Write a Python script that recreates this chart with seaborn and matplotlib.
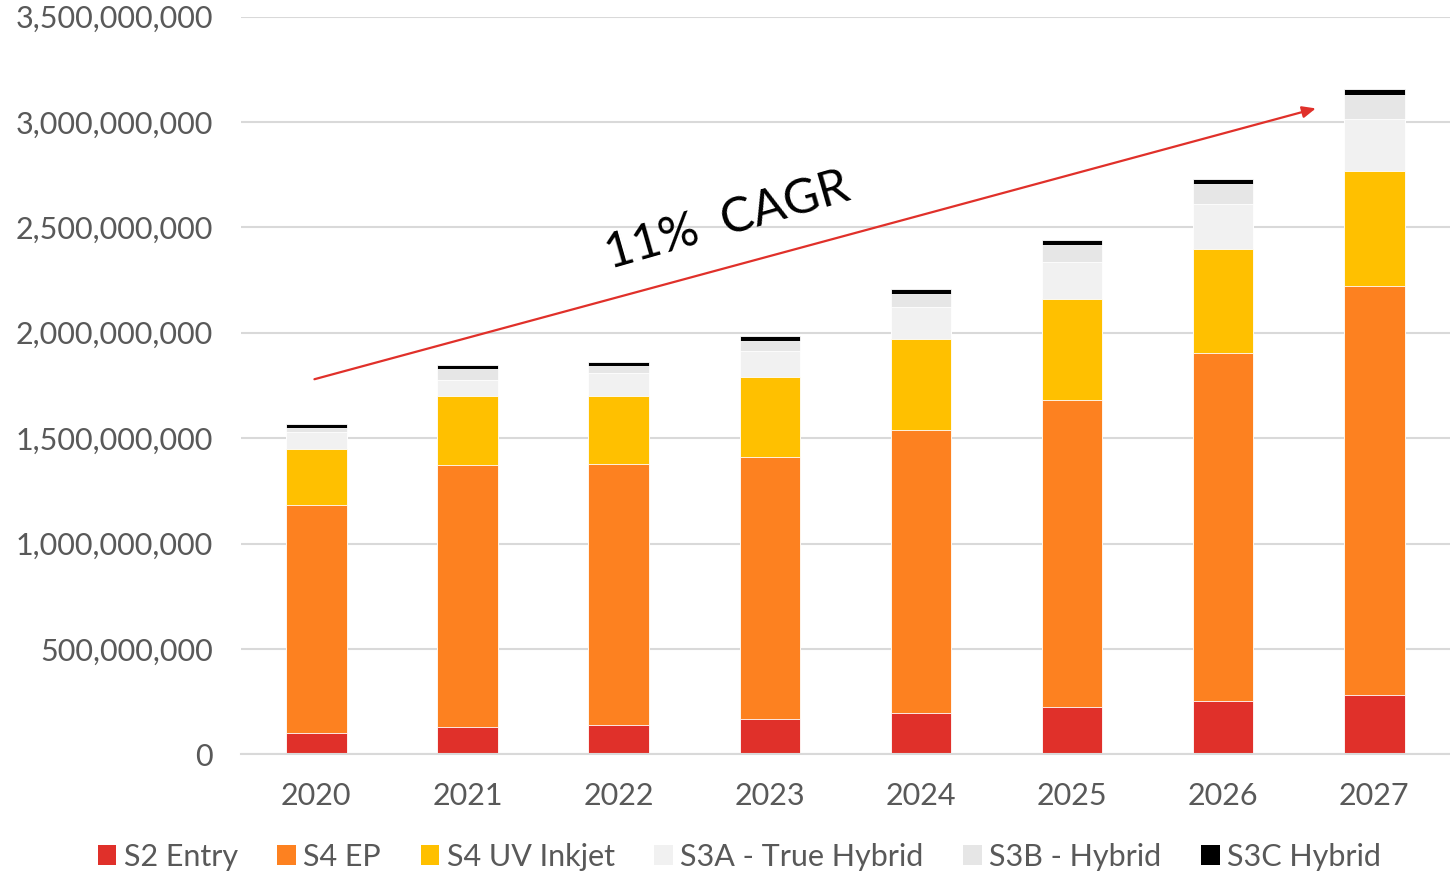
import numpy as np
import pandas as pd
import matplotlib
matplotlib.use("Agg")
import matplotlib.pyplot as plt
import matplotlib.ticker as mticker
from matplotlib.patches import Patch
import seaborn as sns

# values in millions
years = ["2020", "2021", "2022", "2023", "2024", "2025", "2026", "2027"]
s2_entry = [100, 128, 138, 166, 195, 223, 252, 280]
s4_ep = [1082, 1244, 1239, 1244, 1344, 1458, 1652, 1943]
s4_uv = [266, 328, 323, 380, 432, 480, 494, 546]
s3a = [81, 76, 109, 124, 152, 175, 214, 247]
s3b = [19, 52, 34, 47, 62, 81, 95, 114]
s3c = [19, 19, 19, 24, 23, 24, 24, 28]

series = ["S2 Entry", "S4 EP", "S4 UV Inkjet", "S3A - True Hybrid", "S3B - Hybrid", "S3C Hybrid"]
colors = ["#E0302A", "#FD8120", "#FFC000", "#F1F1F1", "#E6E6E6", "#000000"]

df = pd.DataFrame({"year": years})
for name, vals in zip(series, [s2_entry, s4_ep, s4_uv, s3a, s3b, s3c]):
    df[name] = np.array(vals) * 1e6

sns.set_style("white")
plt.rcParams["font.family"] = ["Lato", "DejaVu Sans"]

fig = plt.figure(figsize=(14.5, 8.75), dpi=100)
ax = fig.add_axes([0.166, 0.138, 0.834, 0.843])

# stack by drawing cumulative totals from the top layer down
cum = df[series].cumsum(axis=1)
for name, c in reversed(list(zip(series, colors))):
    sns.barplot(x=df["year"], y=cum[name], color=c, width=0.4, ax=ax,
                edgecolor="white", linewidth=0.6, saturation=1)

ax.set_ylim(0, 3.5e9)
ax.set_yticks(np.arange(0, 3.5e9 + 1, 5e8))
ax.yaxis.set_major_formatter(mticker.FuncFormatter(lambda v, p: f"{v:,.0f}"))
ax.grid(axis="y", color="#D9D9D9", linewidth=1.5)
ax.set_axisbelow(True)
for s in ["top", "right", "left"]:
    ax.spines[s].set_visible(False)
ax.spines["bottom"].set_color("#D9D9D9")
ax.spines["bottom"].set_linewidth(1.5)
ax.tick_params(axis="both", length=0, labelsize=22, labelcolor="#595959")
ax.tick_params(axis="x", pad=20)
ax.tick_params(axis="y", pad=20)
ax.set_xlabel("")
ax.set_ylabel("")
ax.set_xlim(-0.5, 7.5)

# CAGR arrow and label
ax.annotate("", xy=(6.63, 3.068e9), xytext=(-0.03, 1.776e9),
            arrowprops=dict(arrowstyle="-|>,head_length=0.8,head_width=0.35",
                            color="#E0302A", lw=1.6))
ax.text(2.72, 2.53e9, "11%  CAGR", fontsize=35, rotation=16,
        ha="center", va="center", color="black")

handles = [Patch(facecolor=c, edgecolor="none") for c in colors]
fig.legend(handles, series, loc="center", bbox_to_anchor=(0.51, 0.021),
           ncol=6, frameon=False, fontsize=22, labelcolor="#595959",
           handlelength=0.6, handleheight=0.6, handletextpad=0.25,
           columnspacing=1.3)

plt.savefig("out.png", dpi=100)
plt.close()
